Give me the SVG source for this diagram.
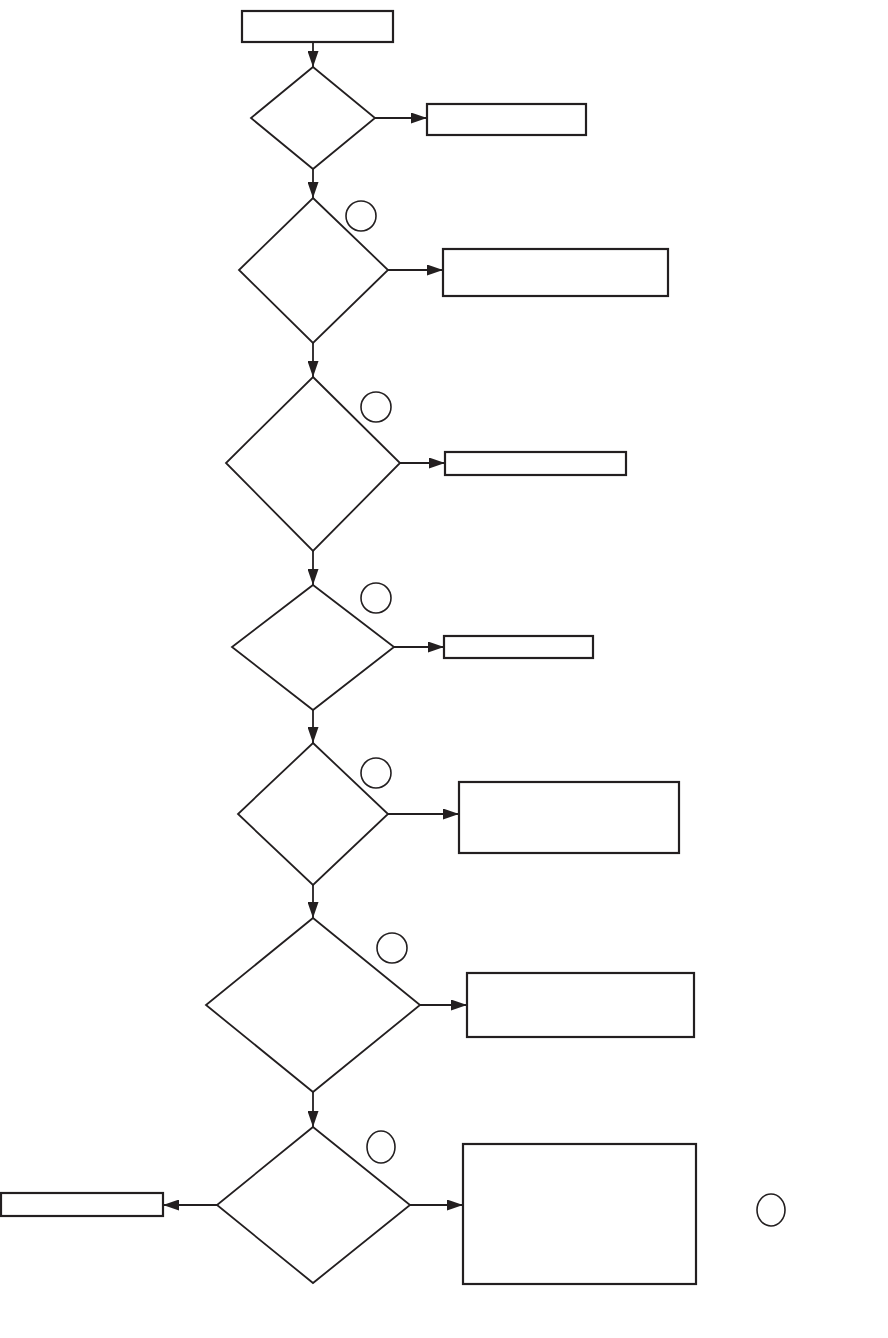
<svg xmlns="http://www.w3.org/2000/svg" width="888" height="1338" viewBox="0 0 888 1338">
<style>
.box{fill:#fff;stroke:#231f20;stroke-width:2.2}
.dia{fill:#fff;stroke:#231f20;stroke-width:1.8}
.mk{fill:none;stroke:#231f20;stroke-width:1.6}
.ln{fill:none;stroke:#231f20;stroke-width:1.8}
</style>
<defs>
<marker id="ah" viewBox="0 0 16 11" refX="16" refY="5.5" markerWidth="16" markerHeight="11" markerUnits="userSpaceOnUse" orient="auto">
<path d="M0,0 L16,5.5 L0,11 Z" fill="#231f20"/>
</marker>
</defs>
<rect width="888" height="1338" fill="#fff"/>
<g id="connectors">
<line class="ln" x1="313" y1="42" x2="313" y2="67" marker-end="url(#ah)"/>
<line class="ln" x1="375" y1="118" x2="427" y2="118" marker-end="url(#ah)"/>
<line class="ln" x1="313" y1="169" x2="313" y2="198" marker-end="url(#ah)"/>
<line class="ln" x1="388" y1="270" x2="443" y2="270" marker-end="url(#ah)"/>
<line class="ln" x1="313" y1="343" x2="313" y2="377" marker-end="url(#ah)"/>
<line class="ln" x1="400" y1="463" x2="445" y2="463" marker-end="url(#ah)"/>
<line class="ln" x1="313" y1="551" x2="313" y2="585" marker-end="url(#ah)"/>
<line class="ln" x1="394" y1="647" x2="444" y2="647" marker-end="url(#ah)"/>
<line class="ln" x1="313" y1="710" x2="313" y2="743" marker-end="url(#ah)"/>
<line class="ln" x1="388" y1="814" x2="459" y2="814" marker-end="url(#ah)"/>
<line class="ln" x1="313" y1="885" x2="313" y2="918" marker-end="url(#ah)"/>
<line class="ln" x1="420" y1="1005" x2="467" y2="1005" marker-end="url(#ah)"/>
<line class="ln" x1="313" y1="1092" x2="313" y2="1127" marker-end="url(#ah)"/>
<line class="ln" x1="410" y1="1205" x2="463" y2="1205" marker-end="url(#ah)"/>
<line class="ln" x1="217" y1="1205" x2="163" y2="1205" marker-end="url(#ah)"/>
</g>
<g id="start"><rect class="box" x="242" y="11" width="151" height="31"/></g>
<g id="d1"><polygon class="dia" points="313,67 375,118 313,169 251,118"/></g>
<g id="r1"><rect class="box" x="427" y="104" width="159" height="31"/></g>
<g id="d2"><polygon class="dia" points="313,198 388,270 313,343 239,270"/><circle class="mk" cx="361" cy="216" r="15"/></g>
<g id="r2"><rect class="box" x="443" y="249" width="225" height="47"/></g>
<g id="d3"><polygon class="dia" points="313,377 400,463 313,551 226,463"/><circle class="mk" cx="376" cy="407" r="15"/></g>
<g id="r3"><rect class="box" x="445" y="452" width="181" height="23"/></g>
<g id="d4"><polygon class="dia" points="313,585 394,647 313,710 232,647"/><circle class="mk" cx="376" cy="598" r="15"/></g>
<g id="r4"><rect class="box" x="444" y="636" width="149" height="22"/></g>
<g id="d5"><polygon class="dia" points="313,743 388,814 313,885 238,814"/><circle class="mk" cx="376" cy="773" r="15"/></g>
<g id="r5"><rect class="box" x="459" y="782" width="220" height="71"/></g>
<g id="d6"><polygon class="dia" points="313,918 420,1005 313,1092 206,1005"/><circle class="mk" cx="392" cy="948" r="15"/></g>
<g id="r6"><rect class="box" x="467" y="973" width="227" height="64"/></g>
<g id="d7"><polygon class="dia" points="313,1127 410,1205 313,1283 217,1205"/><ellipse class="mk" cx="381" cy="1147" rx="14" ry="16"/></g>
<g id="r7"><rect class="box" x="463" y="1144" width="233" height="140"/></g>
<g id="m8"><ellipse class="mk" cx="771" cy="1210" rx="14" ry="16"/></g>
<g id="rl"><rect class="box" x="1" y="1193" width="162" height="23"/></g>
</svg>
